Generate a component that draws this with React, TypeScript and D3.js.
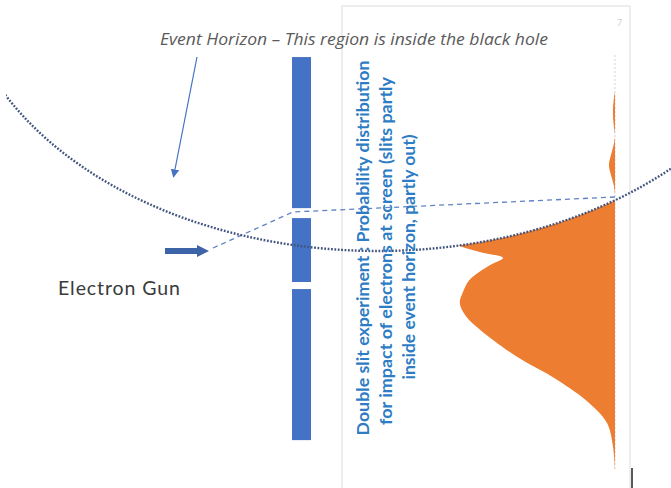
import React from "react";
import * as d3 from "d3";

// Screen position (0 = top of screen, 100 = bottom) and probability intensity (0-100)
const leakPos = [8.9, 10.8, 13.9, 16.9, 19.3, 21.0, 24.1, 26.5, 28.9, 31.3, 33.5];
const leakIntensity = [0, 0.8, 1.3, 0.8, 0, 0.5, 2.5, 3.8, 2.5, 0.8, 0];

const mainPos = [32.5, 34.9, 38.6, 42.2, 44.6, 46.0, 47.5, 48.9, 50.6, 54.2, 57.1, 59.8, 63, 66.3, 72.8, 78.3, 83.9, 88.7, 94.5, 100];
const mainIntensity = [100, 105, 110, 110, 104, 97, 84, 70, 78, 91, 95, 97, 93, 84, 61, 36, 16, 5, 1.2, 0];

// Slit wall segments (start, end) in screen-position units
const slitStart = [0.5, 39.3, 56.4];
const slitEnd = [36.9, 54.7, 92.8];

const titleText = "Event Horizon – This region is inside the black hole";
const gunLabel = "Electron Gun";
const noteLines = [
  "Double slit experiment : Probability distribution",
  "for impact of electrons at screen (slits partly",
  "inside event horizon, partly out)",
];

const W = 671;
const H = 488;

export default function App() {
  const yScale = d3.scaleLinear().domain([0, 100]).range([55, 470]);
  const xScale = d3.scaleLinear().domain([0, 100]).range([615, 455]);

  const area = d3
    .area<[number, number]>()
    .y((d) => yScale(d[0]))
    .x0((d) => xScale(d[1]))
    .x1(() => xScale(0))
    .curve(d3.curveCatmullRom.alpha(0.5));

  const leakData = leakPos.map((p, i) => [p, leakIntensity[i]] as [number, number]);
  const mainData = mainPos.map((p, i) => [p, mainIntensity[i]] as [number, number]);

  // event horizon ellipse
  const hx = 378, hy = -43, hrx = 422, hry = 294;

  const blue = "#4472C4";
  const horizonColor = "#42557F";
  const noteColor = "#2E7CC4";

  const noteX = [369, 392, 415];
  const noteCenter = [248, 251, 257];
  const noteLen = [375, 348, 245];

  return (
    <svg width={W} height={H} style={{ position: "absolute", left: 0, top: 0, background: "#fff" }}>
      <defs>
        <mask id="outsideHorizon">
          <rect x={0} y={0} width={W} height={H} fill="white" />
          <ellipse cx={hx} cy={hy} rx={hrx} ry={hry} fill="black" />
        </mask>
        <clipPath id="horizonClip">
          <rect x={6} y={0} width={W} height={H} />
        </clipPath>
        <marker id="arrowHead" viewBox="0 0 10 10" refX="9" refY="5" markerWidth="7" markerHeight="7" orient="auto">
          <path d="M0,0 L10,5 L0,10 Z" fill={blue} />
        </marker>
      </defs>

      {/* screen box */}
      <rect x={342} y={6} width={288} height={490} fill="none" stroke="#dcdcdc" strokeWidth={1} />
      <text x={617} y={26} fontSize={9} fill="#d0d0d0" fontFamily="Lato, sans-serif">7</text>
      <line x1={615} x2={615} y1={55} y2={470} stroke="#d4d4d4" strokeWidth={1} strokeDasharray="2 2" />

      {/* probability distribution */}
      <path d={area(leakData) || ""} fill="#ED7D31" />
      <path d={area(mainData) || ""} fill="#ED7D31" mask="url(#outsideHorizon)" />

      {/* slits */}
      {slitStart.map((s, i) => (
        <rect key={i} x={292} y={yScale(s)} width={19} height={yScale(slitEnd[i]) - yScale(s)} fill={blue} />
      ))}

      {/* electron paths */}
      <polyline points="213,248 293,212 615,197" fill="none" stroke="#5F82C4" strokeWidth={1.3} strokeDasharray="5 4" />

      {/* event horizon */}
      <ellipse
        cx={hx}
        cy={hy}
        rx={hrx}
        ry={hry}
        fill="none"
        stroke={horizonColor}
        strokeWidth={2.4}
        strokeDasharray="1.8 1.6"
        clipPath="url(#horizonClip)"
      />

      {/* electron gun arrow */}
      <line x1={165} x2={199} y1={251} y2={251} stroke="#3D63A8" strokeWidth={6} />
      <path d="M197,245 L209,251 L197,257 Z" fill="#3D63A8" />
      <text x={58} y={295} fontSize={19.5} fill="#3a3a3a" fontFamily="Lato, sans-serif" textLength={122}>
        {gunLabel}
      </text>

      {/* title and pointer */}
      <text
        x={160}
        y={45}
        fontSize={16}
        fontStyle="italic"
        fill="#5a5a5a"
        fontFamily="'Open Sans', sans-serif"
        textLength={388}
        lengthAdjust="spacingAndGlyphs"
      >
        {titleText}
      </text>
      <line x1={197} y1={57} x2={173.5} y2={177} stroke={blue} strokeWidth={1.2} markerEnd="url(#arrowHead)" />

      {/* rotated note */}
      {noteLines.map((t, i) => (
        <text
          key={i}
          transform={`translate(${noteX[i]},${noteCenter[i]}) rotate(-90)`}
          textAnchor="middle"
          fontSize={17}
          fontWeight="bold"
          fill={noteColor}
          fontFamily="Lato, sans-serif"
          textLength={noteLen[i]}
          lengthAdjust="spacingAndGlyphs"
        >
          {t}
        </text>
      ))}

      {/* small marker bottom right */}
      <line x1={632} x2={632} y1={468} y2={488} stroke="#222" strokeWidth={1.5} />
    </svg>
  );
}
